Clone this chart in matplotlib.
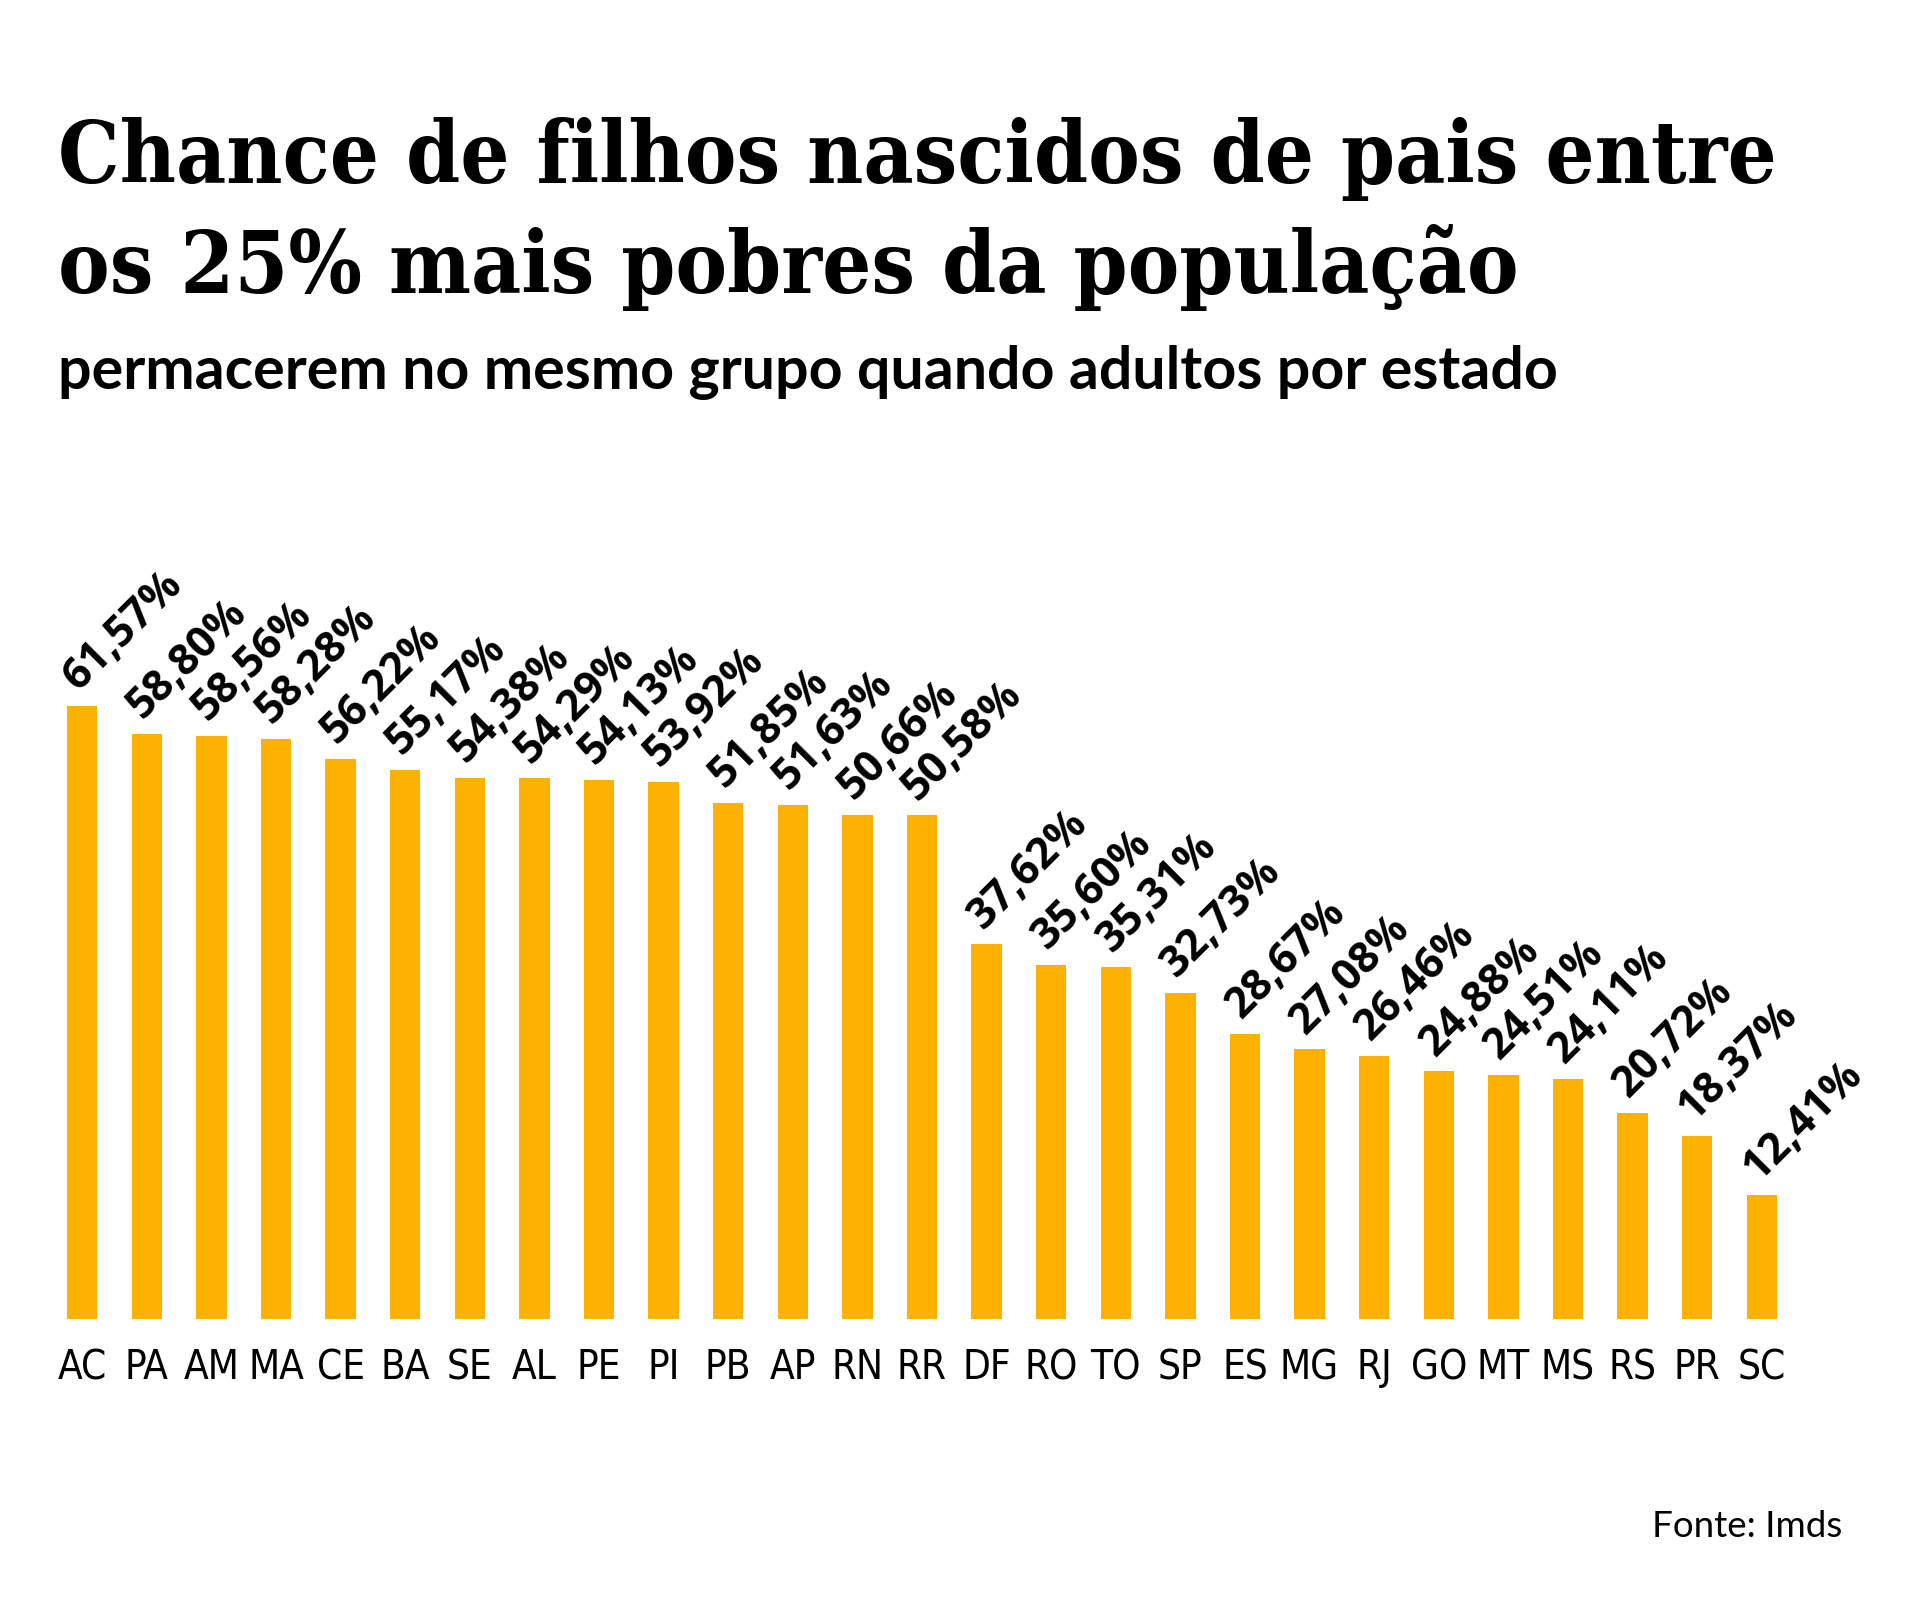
import matplotlib
matplotlib.use('Agg')
from matplotlib import pyplot as plt
import numpy as np

# dados
estados = ['AC', 'PA', 'AM', 'MA', 'CE', 'BA', 'SE', 'AL', 'PE', 'PI', 'PB', 'AP', 'RN', 'RR',
           'DF', 'RO', 'TO', 'SP', 'ES', 'MG', 'RJ', 'GO', 'MT', 'MS', 'RS', 'PR', 'SC']
valores = [61.57, 58.80, 58.56, 58.28, 56.22, 55.17, 54.38, 54.29, 54.13, 53.92, 51.85, 51.63,
           50.66, 50.58, 37.62, 35.60, 35.31, 32.73, 28.67, 27.08, 26.46, 24.88, 24.51, 24.11,
           20.72, 18.37, 12.41]

titulo = ['Chance de filhos nascidos de pais entre', 'os 25% mais pobres da população']
subtitulo = 'permacerem no mesmo grupo quando adultos por estado'
fonte = 'Fonte: Imds'

W, H = 1913, 1604
fig = plt.figure(figsize=(W / 100, H / 100), dpi=100)

def px(x, y):
    # pixels (a partir do topo) -> fração da figura
    return x / W, 1 - y / H

ax = fig.add_axes([50 / W, 285 / H, 1744 / W, 700 / H])
x = np.arange(len(estados))
ax.bar(x, valores, width=0.47, color='#FDB100')
ax.set_xlim(-0.5, len(estados) - 0.5)
ax.set_ylim(0, 70.3)
ax.set_yticks([])
ax.set_xticks(x)
ax.set_xticklabels(estados, fontsize=29, family='DejaVu Sans', fontstretch='condensed',
                   color='black')
ax.tick_params(axis='x', length=0, pad=21)
for s in ax.spines.values():
    s.set_visible(False)

for i, v in enumerate(valores):
    rot = ('%.2f' % v).replace('.', ',') + '%'
    ax.annotate(rot, xy=(i, v), xytext=(-4, 14), textcoords='offset pixels',
                rotation=45, rotation_mode='anchor', ha='left', va='baseline',
                fontsize=31, fontweight='bold', family='Open Sans', color='black')

fig.text(*px(58, 183), titulo[0], fontsize=62, fontweight='bold', family='DejaVu Serif',
         fontstretch='condensed', va='baseline', ha='left')
fig.text(*px(58, 293), titulo[1], fontsize=62, fontweight='bold', family='DejaVu Serif',
         fontstretch='condensed', va='baseline', ha='left')
fig.text(*px(58, 389), subtitulo, fontsize=42.6, fontweight='bold', family='Lato',
         va='baseline', ha='left')
fig.text(*px(1842, 1537), fonte, fontsize=26.5, family='Lato', va='baseline', ha='right')

fig.savefig('out.png', dpi=100, facecolor='white')
